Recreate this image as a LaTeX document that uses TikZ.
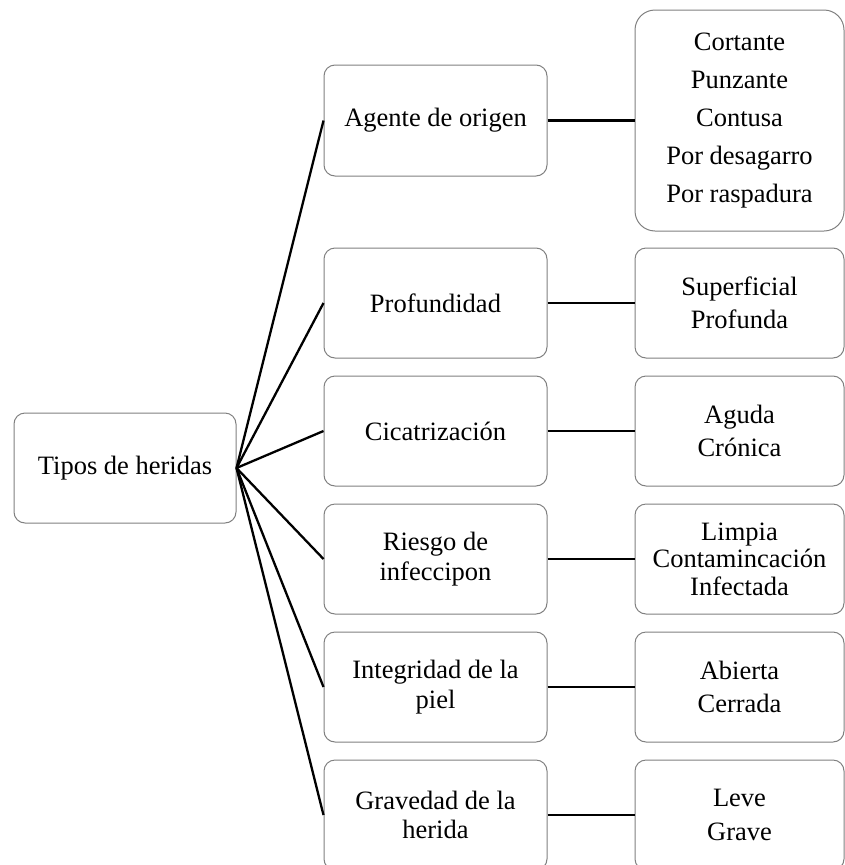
\documentclass[tikz,border=0pt]{standalone}
\usepackage{fontspec}
\setmainfont{Liberation Serif}
\usepackage{tikz}
\usetikzlibrary{positioning}
\definecolor{boxgray}{RGB}{128, 128, 128}

\begin{document}
\begin{tikzpicture}[x=1pt, y=-1pt,
    box/.style={draw=boxgray, line width=1pt, rounded corners=11pt, align=center,
        inner sep=0pt, font=\fontsize{26.5}{29.5}\selectfont},
    rootbox/.style={box, minimum width=222pt, minimum height=110pt},
    midbox/.style={box, minimum width=223pt, minimum height=110pt},
    leafbox/.style={box, minimum width=209pt, minimum height=110pt},
    link/.style={line width=2.3pt, black}]
    % Page frame (the right column runs off the edge)
    \useasboundingbox (0, 0) rectangle (845, 865);
    \clip (0, 0) rectangle (845, 865);

    % Root
    \node[rootbox] (Tipos) at (125, 468) {Tipos de heridas};

    % Middle column
    \node[midbox, minimum height=111pt] (Agente) at (435.5, 120.5) {Agente de origen};
    \node[midbox] (Profundidad) at (435.5, 303) {Profundidad};
    \node[midbox] (Cicatrizacion) at (435.5, 431) {Cicatrización};
    \node[midbox] (Riesgo) at (435.5, 559) {Riesgo de\\infeccipon};
    \node[midbox] (Integridad) at (435.5, 687) {Integridad de la\\piel};
    \node[midbox] (Gravedad) at (435.5, 815) {Gravedad de la\\herida};

    % Right column
    \node[leafbox, minimum height=221pt, rounded corners=20pt] (Agente-L) at (739.5, 120.5)
        {Cortante\\[8.5pt] Punzante\\[8.5pt] Contusa\\[8.5pt] Por desagarro\\[8.5pt] Por raspadura};
    \node[leafbox] (Profundidad-L) at (739.5, 303) {Superficial\\[4pt] Profunda};
    \node[leafbox] (Cicatrizacion-L) at (739.5, 431) {Aguda\\[4pt] Crónica};
    \node[leafbox] (Riesgo-L) at (739.5, 559) {Limpia\\[-2pt] Contamincación\\[-2pt] Infectada};
    \node[leafbox] (Integridad-L) at (739.5, 687) {Abierta\\[4pt] Cerrada};
    \node[leafbox] (Gravedad-L) at (739.5, 815) {Leve\\[4pt] Grave};

    % Connectors
    \foreach \n in {Agente, Profundidad, Cicatrizacion, Riesgo, Integridad, Gravedad} {
        \draw[link] (Tipos.east) -- (\n.west);
        \draw[link] (\n.east) -- (\n.east -| \n-L.west);
    }
\end{tikzpicture}
\end{document}
